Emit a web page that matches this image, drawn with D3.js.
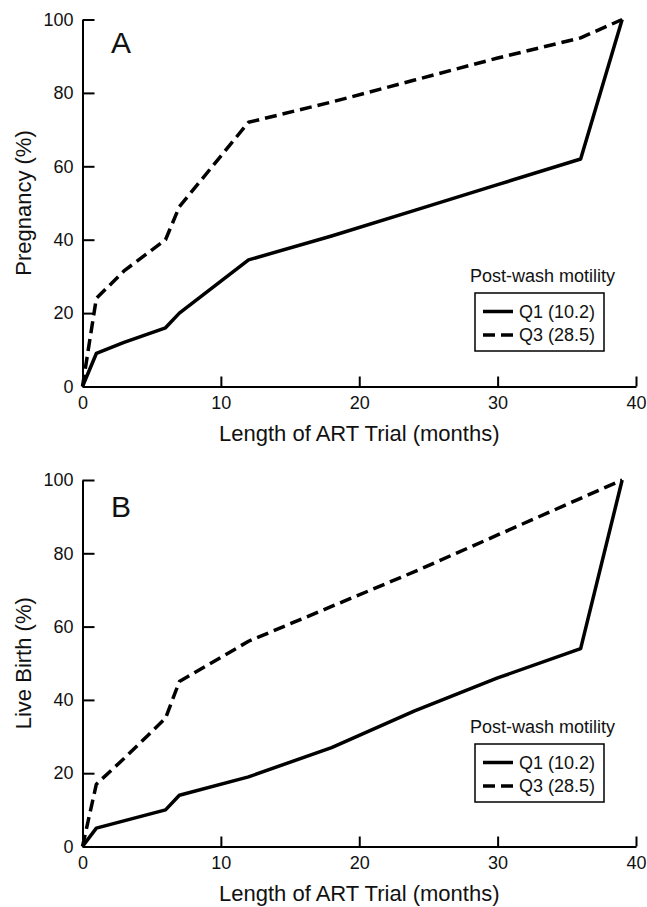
<!DOCTYPE html>
<html>
<head>
<meta charset="utf-8">
<script src="https://cdn.jsdelivr.net/npm/d3@7"></script>
<style>
    body { margin: 0; background: #fff; }
    svg text { font-family: "Liberation Sans", Arial, Helvetica, sans-serif; fill: #111; }
</style>
</head>
<body>
<svg id="chart" width="647" height="907"></svg>
<script>
const MONTH_TICKS = [0, 10, 20, 30, 40];
const PERCENT_TICKS = [0, 20, 40, 60, 80, 100];
const SERIES_NAMES = ['Q1 (10.2)', 'Q3 (28.5)'];
const LEGEND_TITLE = 'Post-wash motility';
const X_LABEL = 'Length of ART Trial (months)';

// panel A - pregnancy, [month, %]
const PREGNANCY_Q1 = [[0, 0], [1, 9], [3, 12], [6, 16], [7, 20], [12, 34.5], [18, 41], [24, 48], [30, 55], [36, 62], [39, 100]];
const PREGNANCY_Q3 = [[0, 0], [1, 24], [3, 31.5], [6, 40], [7, 49], [12, 72], [18, 77.5], [24, 83.5], [30, 89.5], [36, 95], [39, 100]];

// panel B - live birth, [month, %]
const LIVEBIRTH_Q1 = [[0, 0], [1, 5], [6, 10], [7, 14], [12, 19], [18, 27], [24, 37], [30, 46], [36, 54], [39, 100]];
const LIVEBIRTH_Q3 = [[0, 0], [1, 17], [3, 24], [6, 35], [7, 45], [12, 56], [18, 65.5], [24, 75], [30, 85], [36, 95], [39, 100]];

const DASHES = [null, '12,6'];

const panels = [
    { letter: 'A', yLabel: 'Pregnancy (%)', top: 19.5, bottom: 386.5, letterDy: 33.5, legendTop: 293, series: [PREGNANCY_Q1, PREGNANCY_Q3] },
    { letter: 'B', yLabel: 'Live Birth (%)', top: 480, bottom: 846.5, letterDy: 37, legendTop: 744, series: [LIVEBIRTH_Q1, LIVEBIRTH_Q3] }
];

const svg = d3.select('#chart');

const x = d3.scaleLinear()
    .domain([0, 40])
    .range([82.5, 636]);

panels.forEach(p => drawPanel(svg, p));

function drawPanel(selection, panel) {
    const y = d3.scaleLinear()
        .domain([0, 100])
        .range([panel.bottom, panel.top]);

    const g = selection.append('g').attr('class', 'panel');

    // --- axes, ticks pointing inward
    const xAxis = d3.axisBottom(x)
        .tickValues(MONTH_TICKS)
        .tickSizeInner(-10)
        .tickSizeOuter(0)
        .tickPadding(10);

    const yAxis = d3.axisLeft(y)
        .tickValues(PERCENT_TICKS)
        .tickSizeInner(-12)
        .tickSizeOuter(0)
        .tickPadding(9);

    g.append('g')
        .attr('transform', `translate(0, ${panel.bottom})`)
        .call(xAxis)
        .call(styleAxis);

    g.append('g')
        .attr('transform', `translate(${x(0)}, 0)`)
        .call(yAxis)
        .call(styleAxis);

    // --- axis titles
    g.append('text')
        .attr('x', x(20))
        .attr('y', panel.bottom + 54)
        .attr('text-anchor', 'middle')
        .attr('font-size', 22)
        .text(X_LABEL);

    g.append('text')
        .attr('transform', `translate(31, ${(panel.top + panel.bottom) / 2}) rotate(-90)`)
        .attr('text-anchor', 'middle')
        .attr('font-size', 22)
        .text(panel.yLabel);

    g.append('text')
        .attr('x', 111)
        .attr('y', panel.top + panel.letterDy)
        .attr('font-size', 30)
        .text(panel.letter);

    // --- lines
    const line = d3.line()
        .x(d => x(d[0]))
        .y(d => y(d[1]));

    g.selectAll('.series')
        .data(panel.series)
        .enter()
        .append('path')
        .attr('class', 'series')
        .attr('fill', 'none')
        .attr('stroke', '#000')
        .attr('stroke-width', 3.5)
        .attr('stroke-linejoin', 'round')
        .attr('stroke-dasharray', (d, i) => DASHES[i])
        .attr('d', line);

    drawLegend(g, panel.legendTop);
}

function styleAxis(axisG) {
    axisG.select('.domain')
        .attr('stroke', '#000')
        .attr('stroke-width', 2);
    axisG.selectAll('.tick line')
        .attr('stroke', '#000')
        .attr('stroke-width', 2);
    axisG.selectAll('.tick text')
        .attr('font-size', 18)
        .attr('font-family', '"Liberation Sans", Arial, sans-serif')
        .attr('fill', '#111');
}

function drawLegend(selection, top) {
    const lg = selection.append('g').attr('class', 'legend');

    lg.append('text')
        .attr('x', 470)
        .attr('y', top - 11)
        .attr('font-size', 18)
        .text(LEGEND_TITLE);

    lg.append('rect')
        .attr('x', 475)
        .attr('y', top)
        .attr('width', 129)
        .attr('height', 58)
        .attr('fill', 'none')
        .attr('stroke', '#000')
        .attr('stroke-width', 1.5);

    const rows = lg.selectAll('.row')
        .data(SERIES_NAMES)
        .enter()
        .append('g')
        .attr('class', 'row')
        .attr('transform', (d, i) => `translate(0, ${top + 18.5 + i * 23.5})`);

    rows.append('line')
        .attr('x1', 483)
        .attr('x2', 513)
        .attr('stroke', '#000')
        .attr('stroke-width', 3.5)
        .attr('stroke-dasharray', (d, i) => DASHES[i]);

    rows.append('text')
        .attr('x', 519)
        .attr('y', 6)
        .attr('font-size', 18)
        .text(d => d);
}
</script>
</body>
</html>
